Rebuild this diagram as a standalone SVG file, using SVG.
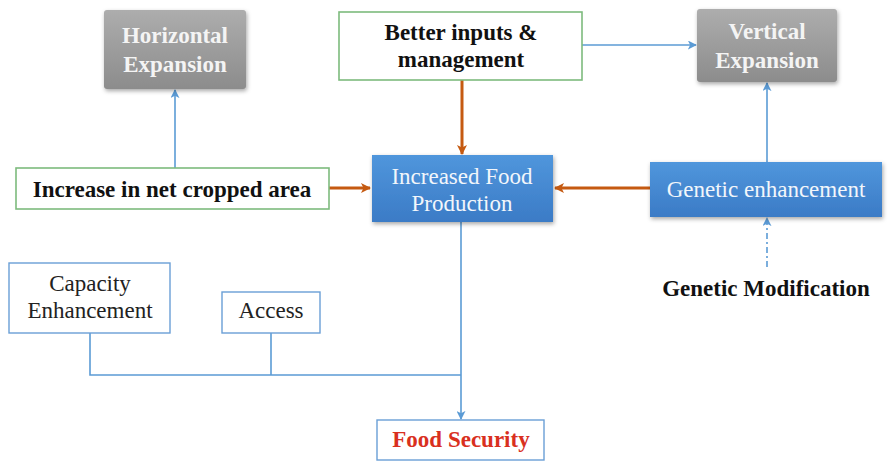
<svg xmlns="http://www.w3.org/2000/svg" width="891" height="461" viewBox="0 0 891 461">
<defs>
<linearGradient id="gGray" x1="0" y1="0" x2="0" y2="1">
<stop offset="0" stop-color="#adadad"/><stop offset="1" stop-color="#8c8c8c"/>
</linearGradient>
<linearGradient id="gBlue" x1="0" y1="0" x2="0" y2="1">
<stop offset="0" stop-color="#5096dc"/><stop offset="1" stop-color="#3b7bc6"/>
</linearGradient>
<filter id="sh" x="-10%" y="-10%" width="125%" height="130%">
<feDropShadow dx="1" dy="2" stdDeviation="2" flood-color="#000" flood-opacity="0.35"/>
</filter>
<marker id="aBlue" viewBox="0 0 10 10" refX="9" refY="5" markerWidth="9" markerHeight="9" markerUnits="userSpaceOnUse" orient="auto">
<path d="M0,0 L10,5 L0,10 L2.5,5 z" fill="#5b9bd5"/>
</marker>
<marker id="aOrange" viewBox="0 0 10 10" refX="9" refY="5" markerWidth="10" markerHeight="10" markerUnits="userSpaceOnUse" orient="auto">
<path d="M0,0 L10,5 L0,10 L2.5,5 z" fill="#c55a11"/>
</marker>
</defs>
<style>
.gray{fill:url(#gGray);filter:url(#sh)}
.blue{fill:url(#gBlue);filter:url(#sh)}
.green{fill:#fff;stroke:#7dbb7d;stroke-width:1.6}
.outline{fill:#fff;stroke:#6a9fd6;stroke-width:1.4}
text{font-family:"Liberation Serif","Times New Roman",serif;text-anchor:middle;font-size:23px}
.wb{fill:#f4f4f4;font-weight:bold}
.kb{fill:#111;font-weight:bold}
.wn{fill:#f2f6fb}
.kn{fill:#222}
.rb{fill:#d9301e;font-weight:bold}
.lb{fill:none;stroke:#5b9bd5;stroke-width:1.6}
.lo{fill:none;stroke:#c55a11;stroke-width:3}
</style>
<g id="connectors">
<line class="lb" x1="175" y1="168" x2="175" y2="90" marker-end="url(#aBlue)"/>
<line class="lb" x1="582" y1="45" x2="696" y2="45" marker-end="url(#aBlue)"/>
<line class="lb" x1="767" y1="162" x2="767" y2="83" marker-end="url(#aBlue)"/>
<line class="lb" x1="767" y1="267" x2="767" y2="218" stroke-dasharray="6,3,2,3" marker-end="url(#aBlue)"/>
<line class="lo" x1="462" y1="80" x2="462" y2="154" marker-end="url(#aOrange)"/>
<line class="lo" x1="329" y1="188" x2="370" y2="188" marker-end="url(#aOrange)"/>
<line class="lo" x1="650" y1="188" x2="555" y2="188" marker-end="url(#aOrange)"/>
<line class="lb" x1="461" y1="222" x2="461" y2="419" marker-end="url(#aBlue)"/>
<polyline class="lb" points="90,333 90,375 461,375"/>
<line class="lb" x1="271" y1="333" x2="271" y2="375"/>
</g>
<g id="horizontal-expansion">
<rect class="gray" x="104" y="10" width="142" height="79" rx="3"/>
<text class="wb" x="175" y="43">Horizontal</text>
<text class="wb" x="175" y="72">Expansion</text>
</g>
<g id="better-inputs">
<rect class="green" x="339" y="12" width="243" height="68"/>
<text class="kb" x="461" y="40">Better inputs &amp;</text>
<text class="kb" x="461" y="67">management</text>
</g>
<g id="vertical-expansion">
<rect class="gray" x="697" y="9" width="140" height="73" rx="3"/>
<text class="wb" x="767" y="39">Vertical</text>
<text class="wb" x="767" y="68">Expansion</text>
</g>
<g id="net-cropped-area">
<rect class="green" x="16" y="168" width="313" height="41"/>
<text class="kb" x="172" y="197">Increase in net cropped area</text>
</g>
<g id="increased-food-production">
<rect class="blue" x="372" y="155" width="181" height="67"/>
<text class="wn" x="462" y="184">Increased Food</text>
<text class="wn" x="462" y="211">Production</text>
</g>
<g id="genetic-enhancement">
<rect class="blue" x="650" y="162" width="232" height="55"/>
<text class="wn" x="766" y="197">Genetic enhancement</text>
</g>
<g id="genetic-modification">
<text class="kb" x="766" y="296">Genetic Modification</text>
</g>
<g id="capacity-enhancement">
<rect class="outline" x="9" y="263" width="161" height="70"/>
<text class="kn" x="90" y="291">Capacity</text>
<text class="kn" x="90" y="318">Enhancement</text>
</g>
<g id="access">
<rect class="outline" x="222" y="292" width="98" height="41"/>
<text class="kn" x="271" y="318">Access</text>
</g>
<g id="food-security">
<rect class="outline" x="377" y="420" width="167" height="40"/>
<text class="rb" x="461" y="447">Food Security</text>
</g>
</svg>
